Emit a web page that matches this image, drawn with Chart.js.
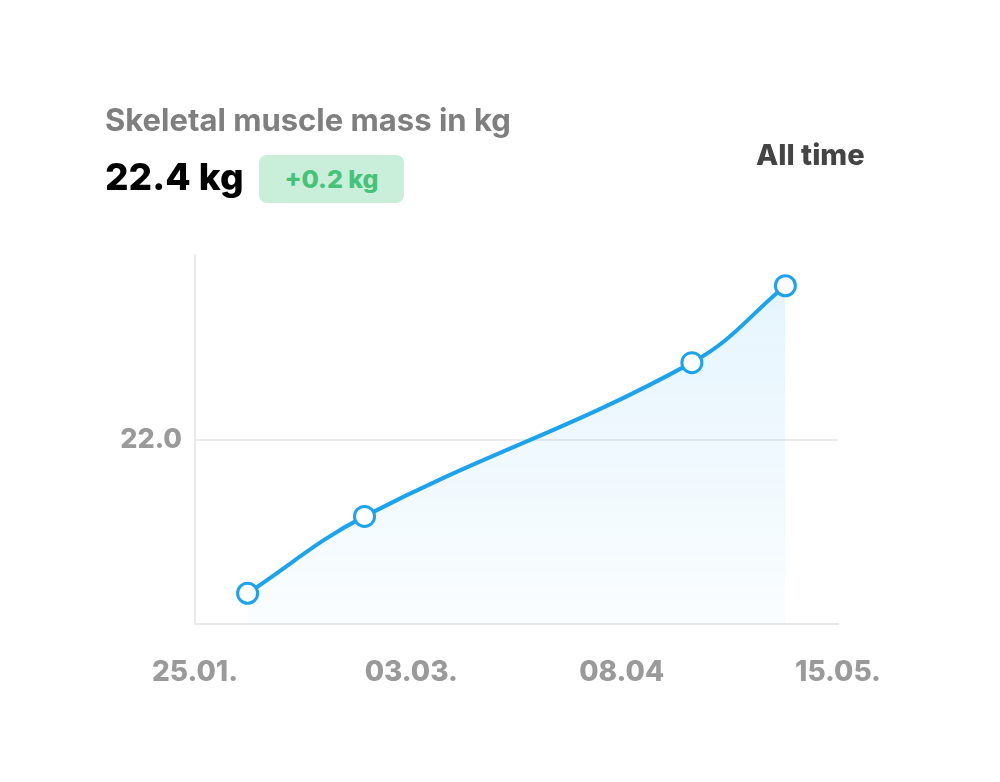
<!DOCTYPE html>
<html>
<head>
<meta charset="utf-8">
<script src="https://cdn.jsdelivr.net/npm/chart.js@4.4.1/dist/chart.umd.min.js"></script>
<style>
  html, body { margin: 0; padding: 0; background: #fff; }
  body { width: 1000px; height: 782px; position: relative; overflow: hidden; font-family: Inter, "Noto Sans", sans-serif; }
  #wrap { position: absolute; left: 0; top: 0; width: 1000px; height: 782px; }
  .title { position: absolute; left: 105px; top: 104px; font-size: 31px; line-height: 1; font-weight: 700; color: #7f7f7f; white-space: nowrap; }
  .value { position: absolute; left: 105px; top: 158px; font-size: 37px; line-height: 1; font-weight: 800; color: #000; white-space: nowrap; }
  .badge { position: absolute; left: 259px; top: 155px; width: 145px; height: 48px; border-radius: 8px; background: #c9eed9; color: #45c37a; font-size: 25px; font-weight: 800; display: flex; align-items: center; justify-content: center; }
  .range { position: absolute; left: 756px; top: 140px; font-size: 29px; line-height: 1; font-weight: 800; color: #444; white-space: nowrap; }
</style>
</head>
<body>
<div id="wrap"><canvas id="c" width="1000" height="782"></canvas></div>
<div class="title">Skeletal muscle mass in kg</div>
<div class="value">22.4 kg</div>
<div class="badge">+0.2 kg</div>
<div class="range">All time</div>
<script>
// Data (days since 25.01.)
const dayOffsets = [9, 29, 85, 101];
const massValues = [21.6, 21.8, 22.2, 22.4];
const xTickDays = [0, 37, 73, 110];
const xTickLabels = ['25.01.', '03.03.', '08.04', '15.05.'];
const yTickValues = [22.0];
const yTickLabels = ['22.0'];

const points = dayOffsets.map((d, i) => ({ x: d, y: massValues[i] }));

const ctx = document.getElementById('c').getContext('2d');
const chart = new Chart(ctx, {
  type: 'line',
  data: {
    datasets: [{
      data: points,
      borderColor: '#1ba3ef',
      borderWidth: 4,
      tension: 0.4,
      pointRadius: 10,
      pointHoverRadius: 10,
      pointBorderWidth: 3,
      pointBackgroundColor: '#ffffff',
      pointBorderColor: '#1ba3ef',
      fill: 'start',
      backgroundColor: (c) => {
        const a = c.chart.chartArea;
        if (!a) return 'rgba(27,163,239,0.08)';
        const g = c.chart.ctx.createLinearGradient(0, a.top, 0, a.bottom);
        g.addColorStop(0, 'rgba(27,163,239,0.12)');
        g.addColorStop(1, 'rgba(27,163,239,0.025)');
        return g;
      }
    }]
  },
  options: {
    responsive: false,
    animation: false,
    events: [],
    layout: { padding: { left: 0, right: 162, top: 255, bottom: 0 } },
    plugins: { legend: { display: false }, tooltip: { enabled: false } },
    scales: {
      x: {
        type: 'linear',
        min: xTickDays[0],
        max: xTickDays[xTickDays.length - 1],
        afterBuildTicks: (s) => { s.ticks = xTickDays.map(v => ({ value: v })); },
        afterFit: (s) => { s.height = 782 - 624; },
        ticks: {
          autoSkip: false,
          maxRotation: 0,
          padding: 32,
          color: '#9a9a9a',
          font: { family: 'Inter', size: 28, weight: '800' },
          callback: (v) => { const i = xTickDays.indexOf(v); return i >= 0 ? xTickLabels[i] : ''; }
        },
        grid: { display: false, drawTicks: false },
        border: { display: true, color: '#e9e9e9', width: 2 }
      },
      y: {
        min: 21.52,
        max: 22.48,
        afterBuildTicks: (s) => { s.ticks = yTickValues.map(v => ({ value: v })); },
        afterFit: (s) => { s.width = 195; },
        ticks: {
          padding: 13,
          color: '#9a9a9a',
          font: { family: 'Inter', size: 27, weight: '800' },
          callback: (v) => { const i = yTickValues.indexOf(v); return i >= 0 ? yTickLabels[i] : ''; }
        },
        grid: { color: '#ebebeb', lineWidth: 2, drawTicks: false },
        border: { display: true, color: '#e9e9e9', width: 2 }
      }
    }
  }
});
</script>
</body>
</html>
